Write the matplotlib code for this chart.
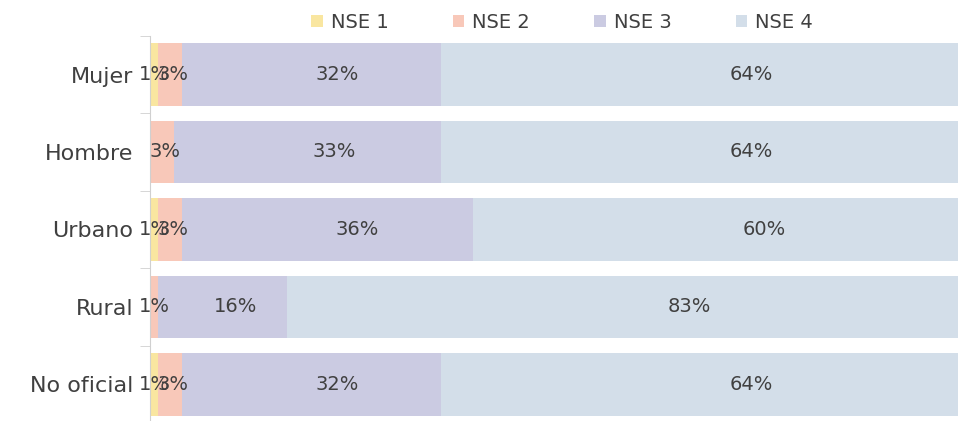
import matplotlib.pyplot as plt
import numpy as np

categorias = ["Mujer", "Hombre", "Urbano", "Rural", "No oficial"]
series = ["NSE 1", "NSE 2", "NSE 3", "NSE 4"]
nse1 = [1, 0, 1, 0, 1]
nse2 = [3, 3, 3, 1, 3]
nse3 = [32, 33, 36, 16, 32]
nse4 = [64, 64, 60, 83, 64]

colores = ["#F9E6A0", "#F8C8B9", "#CBCBE2", "#D3DEE9"]
texto = "#404040"

plt.rcParams['font.family'] = ['DejaVu Sans']

fig = plt.figure(figsize=(9.74, 4.21), dpi=100)
ax = fig.add_axes([0.154, -0.005, 0.8296, 0.92])

y = np.arange(len(categorias))
left = np.zeros(len(categorias))
for nombre, vals, c in zip(series, [nse1, nse2, nse3, nse4], colores):
    vals = np.array(vals, dtype=float)
    ax.barh(y, vals, left=left, height=0.81, color=c, label=nombre)
    for yi, l, v in zip(y, left, vals):
        if v > 0:
            # las etiquetas del original quedan algo a la derecha del centro
            ax.text(l + v * 0.6, yi, f"{int(v)}%", ha='center', va='center',
                    fontsize=14, color=texto)
    left += vals

ax.set_xlim(0, 100)
ax.set_ylim(len(categorias) - 0.5, -0.5)
ax.set_yticks(y)
ax.set_yticklabels(categorias, fontsize=16, color=texto)
ax.set_yticks(np.arange(-0.5, len(categorias)), minor=True)
ax.tick_params(axis='y', which='major', length=0, pad=12)
ax.tick_params(axis='y', which='minor', length=7, color='#D0D0D0')
ax.set_xticks([])
for s in ['top', 'right', 'bottom']:
    ax.spines[s].set_visible(False)
ax.spines['left'].set_color('#D0D0D0')

leg = ax.legend(loc='center', bbox_to_anchor=(0.51, 1.035), ncol=4, frameon=False,
                fontsize=14, handlelength=0.6, handleheight=0.6, handletextpad=0.4,
                columnspacing=3.3, labelcolor=texto)

fig.savefig("out.png", dpi=100)
